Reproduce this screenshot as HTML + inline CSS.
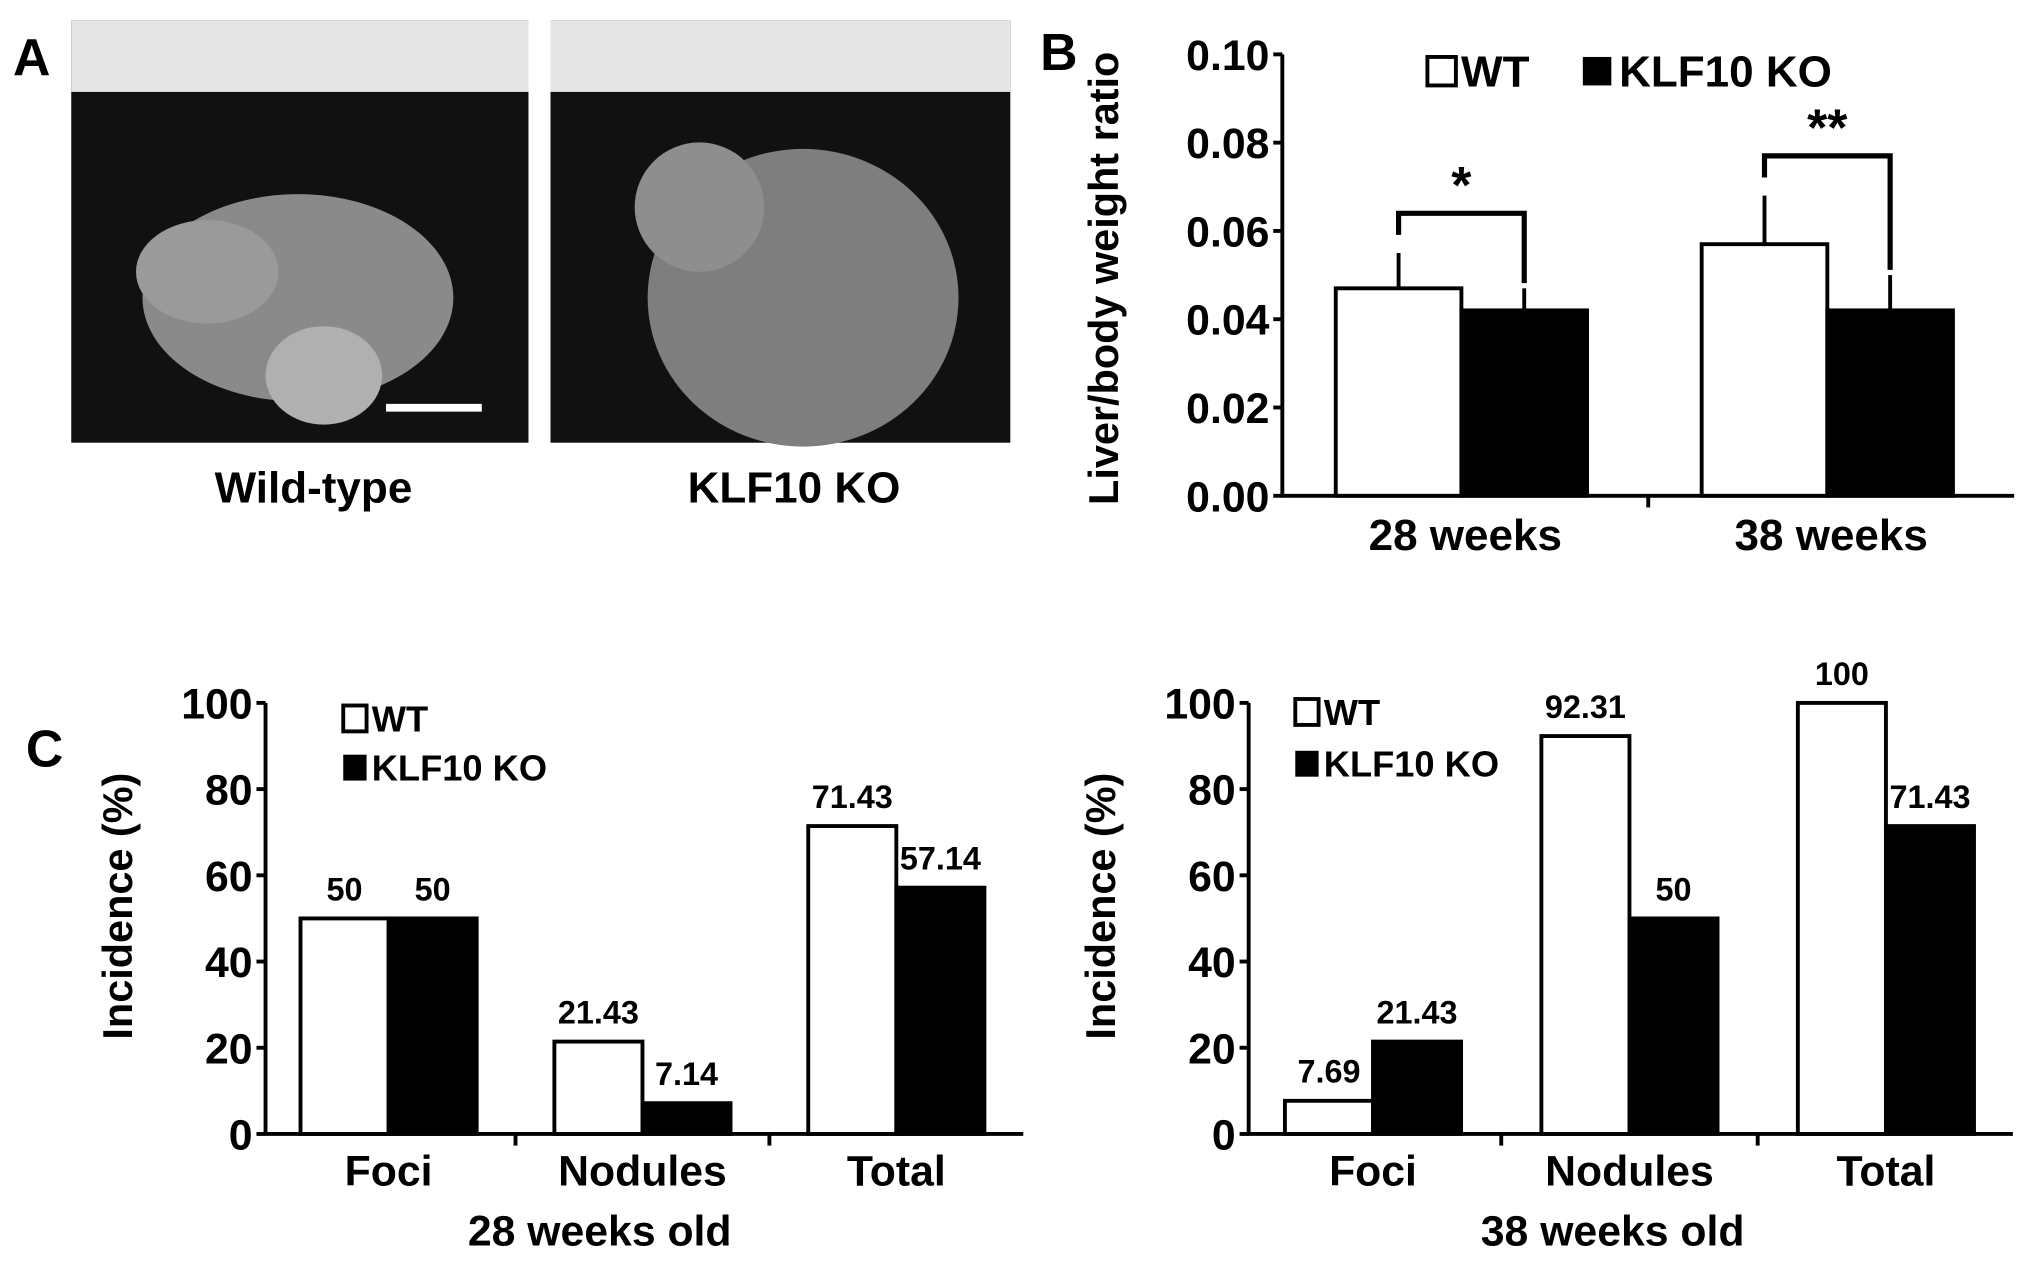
<!DOCTYPE html>
<html><head><meta charset="utf-8"><style>
html,body{margin:0;padding:0;background:#fff;}
svg{display:block;}
text{font-family:"Liberation Sans",sans-serif;font-weight:bold;fill:#000;}
</style></head><body>
<svg id="fig" width="2031" height="1266" viewBox="0 0 1568 978" preserveAspectRatio="none">
<g>
<text x="10" y="58" font-size="40">A</text>
<g>
<rect x="55" y="16" width="353" height="326" fill="#111"/>
<rect x="55" y="16" width="353" height="55" fill="#e6e6e6"/>
<ellipse cx="230" cy="230" rx="120" ry="80" fill="#8a8a8a"/>
<ellipse cx="160" cy="210" rx="55" ry="40" fill="#9a9a9a"/>
<ellipse cx="250" cy="290" rx="45" ry="38" fill="#b0b0b0"/>
<polygon points="298,318 372,318 372,312 298,312" fill="#fff"/>
</g>
<g>
<rect x="425" y="16" width="355" height="326" fill="#111"/>
<rect x="425" y="16" width="355" height="55" fill="#e6e6e6"/>
<ellipse cx="620" cy="230" rx="120" ry="115" fill="#7e7e7e"/>
<ellipse cx="540" cy="160" rx="50" ry="50" fill="#8e8e8e"/>
</g>
<text x="242" y="388" font-size="34" text-anchor="middle">Wild-type</text>
<text x="613" y="388" font-size="34" text-anchor="middle">KLF10 KO</text>
</g>
<text x="803" y="54" font-size="40">B</text>
<text x="20" y="592" font-size="40">C</text>
<g id="chartB"></g>
<g id="chartC1"></g>
<g id="chartC2"></g>
</svg>
<script>
const NS="http://www.w3.org/2000/svg";
const bCategories=["28 weeks","38 weeks"];
const bWT=[0.047,0.057];
const bKO=[0.042,0.042];
const bWTerr=[0.008,0.011];
const bKOerr=[0.005,0.008];
const bSig=["*","**"];
const bTicks=["0.00","0.02","0.04","0.06","0.08","0.10"];
const cCategories=["Foci","Nodules","Total"];
const c28WT=[50,21.43,71.43];
const c28KO=[50,7.14,57.14];
const c38WT=[7.69,92.31,100];
const c38KO=[21.43,50,71.43];
const cTicks=["0","20","40","60","80","100"];

function el(parent,tag,attrs,text){const e=document.createElementNS(NS,tag);for(const k in attrs)e.setAttribute(k,attrs[k]);if(text!==undefined)e.textContent=text;parent.appendChild(e);return e;}

(function(){
const g=document.getElementById('chartB');
const x0=990,x1=1555,y0=383,y1=42,max=0.10;
const Y=v=>y0-(v/max)*(y0-y1);
const grpW=(x1-x0)/bCategories.length;
const barW=97;
const ax=el(g,'path',{d:`M${x0},${y1} V${y0} H${x1}`,stroke:'#000','stroke-width':3,fill:'none'});


bTicks.forEach(t=>{const y=Y(parseFloat(t));
el(g,'line',{x1:x0-7,x2:x0,y1:y,y2:y,stroke:'#000','stroke-width':3});
const tl=el(g,'text',{x:x0-10,y:y+12,'font-size':33,'text-anchor':'end'},t);

});
for(let i=1;i<bCategories.length;i++){const x=x0+grpW*i;el(g,'line',{x1:x,x2:x,y1:y0,y2:y0+9,stroke:'#000','stroke-width':3});}
bCategories.forEach((c,i)=>{
const cx=x0+grpW*(i+0.5);
const xw=cx-barW-3,xk=cx-3;
const r1=el(g,'rect',{x:xw,y:Y(bWT[i]),width:barW,height:y0-Y(bWT[i]),fill:'#fff',stroke:'#000','stroke-width':3});


const r2=el(g,'rect',{x:xk,y:Y(bKO[i]),width:barW,height:y0-Y(bKO[i]),fill:'#000',stroke:'#000','stroke-width':3});


const ew=xw+barW/2,ek=xk+barW/2;
el(g,'line',{x1:ew,x2:ew,y1:Y(bWT[i]),y2:Y(bWT[i]+bWTerr[i]),stroke:'#000','stroke-width':3});
el(g,'line',{x1:ek,x2:ek,y1:Y(bKO[i]),y2:Y(bKO[i]+bKOerr[i]),stroke:'#000','stroke-width':3});
const top=Math.max(bWT[i]+bWTerr[i],bKO[i]+bKOerr[i])+0.009;
const yt=Y(top);
el(g,'path',{d:`M${ew},${Y(bWT[i]+bWTerr[i])-14} V${yt} H${ek} V${Y(bKO[i]+bKOerr[i])-4}`,stroke:'#000','stroke-width':4,fill:'none'});
const s=el(g,'text',{x:(ew+ek)/2,y:yt-8,'font-size':40,'text-anchor':'middle'},bSig[i]);


const xl=el(g,'text',{x:cx,y:425,'font-size':34,'text-anchor':'middle'},c);


});
const yt=el(g,'text',{x:0,y:0,'font-size':32,'text-anchor':'middle',transform:`translate(863,215) rotate(-90)`},'Liver/body weight ratio');


el(g,'rect',{x:1102,y:44,width:22,height:22,fill:'#fff',stroke:'#000','stroke-width':3});
const l1=el(g,'text',{x:1128,y:67,'font-size':34},'WT');


el(g,'rect',{x:1222,y:44,width:22,height:22,fill:'#000'});
const l2=el(g,'text',{x:1250,y:67,'font-size':34},'KLF10 KO');


})();

function drawC(id,x0,axLen,firstOff,spacing,wt,ko,title,titleX,legendX,legendY,legendGap){
const g=document.getElementById(id);
const x1=x0+axLen,y0=876,y1=543,max=100;
const Y=v=>y0-(v/max)*(y0-y1);
const barW=68;
const ax=el(g,'path',{d:`M${x0},${y1} V${y0} H${x1}`,stroke:'#000','stroke-width':3,fill:'none'});


cTicks.forEach(t=>{const y=Y(parseFloat(t));
el(g,'line',{x1:x0-7,x2:x0,y1:y,y2:y,stroke:'#000','stroke-width':3});
const tl=el(g,'text',{x:x0-10,y:y+12,'font-size':33,'text-anchor':'end'},t);

});
for(let i=1;i<3;i++){const x=x0+firstOff+spacing*(i-0.5);el(g,'line',{x1:x,x2:x,y1:y0,y2:y0+9,stroke:'#000','stroke-width':3});}
cCategories.forEach((c,i)=>{
const cx=x0+firstOff+spacing*i;
const r1=el(g,'rect',{x:cx-barW,y:Y(wt[i]),width:barW,height:y0-Y(wt[i]),fill:'#fff',stroke:'#000','stroke-width':3});


const r2=el(g,'rect',{x:cx,y:Y(ko[i]),width:barW,height:y0-Y(ko[i]),fill:'#000',stroke:'#000','stroke-width':3});


const v1=el(g,'text',{x:cx-barW/2,y:Y(wt[i])-14,'font-size':25,'text-anchor':'middle'},String(wt[i]));


const v2=el(g,'text',{x:cx+barW/2,y:Y(ko[i])-14,'font-size':25,'text-anchor':'middle'},String(ko[i]));


const xl=el(g,'text',{x:cx,y:916,'font-size':33,'text-anchor':'middle'},c);


});
const yt=el(g,'text',{x:0,y:0,'font-size':32,'text-anchor':'middle',transform:`translate(${x0-103},700) rotate(-90)`},'Incidence (%)');


const xt=el(g,'text',{x:titleX,y:962,'font-size':33,'text-anchor':'middle'},title);


el(g,'rect',{x:legendX,y:legendY-20,width:18,height:20,fill:'#fff',stroke:'#000','stroke-width':3});
const l1=el(g,'text',{x:legendX+22,y:legendY,'font-size':28},'WT');


el(g,'rect',{x:legendX,y:legendY+legendGap-20,width:18,height:20,fill:'#000'});
const l2=el(g,'text',{x:legendX+22,y:legendY+legendGap,'font-size':28},'KLF10 KO');


}
drawC('chartC1',205,585,95,196,c28WT,c28KO,'28 weeks old',463,265,565,38);
drawC('chartC2',964,590,96,198,c38WT,c38KO,'38 weeks old',1245,1000,560,40);
</script>
</body></html>
